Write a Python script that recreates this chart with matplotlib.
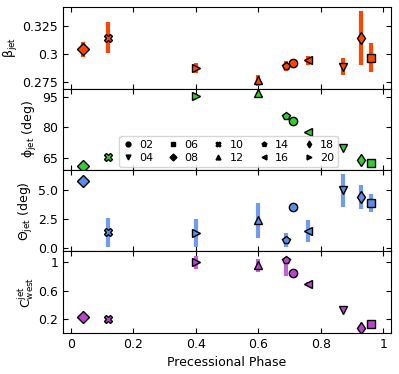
import numpy as np
import matplotlib.pyplot as plt

plt.rcParams['mathtext.default'] = 'regular'
plt.rcParams['font.size'] = 9

# observation labels and markers
labels = ['02', '04', '06', '08', '10', '12', '14', '16', '18', '20']
markers = ['o', 'v', 's', 'D', 'X', '^', 'p', '<', 'd', '>']
phase = [0.71, 0.87, 0.96, 0.04, 0.12, 0.60, 0.69, 0.76, 0.93, 0.40]

# jet speed
beta = [0.2914, 0.2883, 0.2964, 0.304, 0.3144, 0.2763, 0.2889, 0.294, 0.3141, 0.2871]
beta_err = [0.002, 0.0078, 0.013, 0.0065, 0.014, 0.005, 0.0047, 0.004, 0.024, 0.0048]

# position angle
phi = [83.1, 69.6, 62.6, 60.9, 65.5, 96.6, 85.5, 77.7, 63.7, 95.3]
phi_err = [0, 0, 0, 0, 0, 0, 0, 0, 0, 0]

# opening angle
theta = [3.54, 4.94, 3.87, 5.76, 1.33, 2.37, 0.68, 1.47, 4.38, 1.27]
theta_err = [0, 1.4, 0.8, 0, 1.25, 1.5, 0.6, 0.95, 1.05, 1.2]

# west lobe fraction
cwest = [0.85, 0.33, 0.135, 0.228, 0.2, 0.953, 1.03, 0.69, 0.07, 1.0]
cwest_lo = [0, 0, 0, 0, 0.03, 0.09, 0.23, 0.03, 0, 0.09]
cwest_hi = [0, 0, 0, 0, 0.03, 0.09, 0.0, 0.03, 0, 0.09]

fig, axes = plt.subplots(4, 1, figsize=(3.99, 3.74), dpi=100, sharex=True)
fig.subplots_adjust(left=0.158, right=0.98, top=0.981, bottom=0.11, hspace=0)

panels = [
    (beta, [beta_err, beta_err], '#ff4500', '#ff4500', r'$\beta_{jet}$'),
    (phi, [phi_err, phi_err], '#33cc33', '#33cc33', r'$\phi_{jet}$ (deg)'),
    (theta, [theta_err, theta_err], '#5b8de6', '#6f9cf0', r'$\Theta_{jet}$ (deg)'),
    (cwest, [cwest_lo, cwest_hi], '#bb44cc', '#c25fd6', r'$C^{jet}_{west}$'),
]

for ax, (vals, err, col, ecol, ylab) in zip(axes, panels):
    for i in range(len(labels)):
        ax.errorbar(phase[i], vals[i], yerr=[[err[0][i]], [err[1][i]]], fmt=markers[i],
                    color=col, ecolor=ecol, elinewidth=3, capsize=0,
                    markeredgecolor='black', markeredgewidth=1, markersize=6)
    ax.set_ylabel(ylab, labelpad=2)
    ax.tick_params(direction='in', top=True, right=True, labelsize=9)

axes[0].set_ylim(0.2687, 0.342)
axes[0].set_yticks([0.275, 0.3, 0.325])
axes[0].set_yticklabels(['0.275', '0.3', '0.325'])
axes[1].set_ylim(59, 99)
axes[1].set_yticks([65, 80, 95])
axes[2].set_ylim(-0.3, 6.7)
axes[2].set_yticks([0.0, 2.5, 5.0])
axes[3].set_ylim(0.007, 1.15)
axes[3].set_yticks([0.2, 0.6, 1.0])
axes[3].set_yticklabels(['0.2', '0.6', '1'])
axes[3].set_xlim(-0.025, 1.025)
axes[3].set_xticks([0, 0.2, 0.4, 0.6, 0.8, 1.0])
axes[3].set_xticklabels(['0', '0.2', '0.4', '0.6', '0.8', '1'])
axes[3].set_xlabel('Precessional Phase')

handles = [plt.Line2D([], [], ls='none', marker=m, color='black', markersize=3.5) for m in markers]
axes[1].legend(handles, labels, ncol=5, loc='lower right', bbox_to_anchor=(0.838, 0.04),
               fontsize=8, handlelength=0.8, columnspacing=1.4, borderpad=0.35,
               labelspacing=0.25, handletextpad=0.6, borderaxespad=0, framealpha=0.8)

fig.savefig('out.png', dpi=100)
